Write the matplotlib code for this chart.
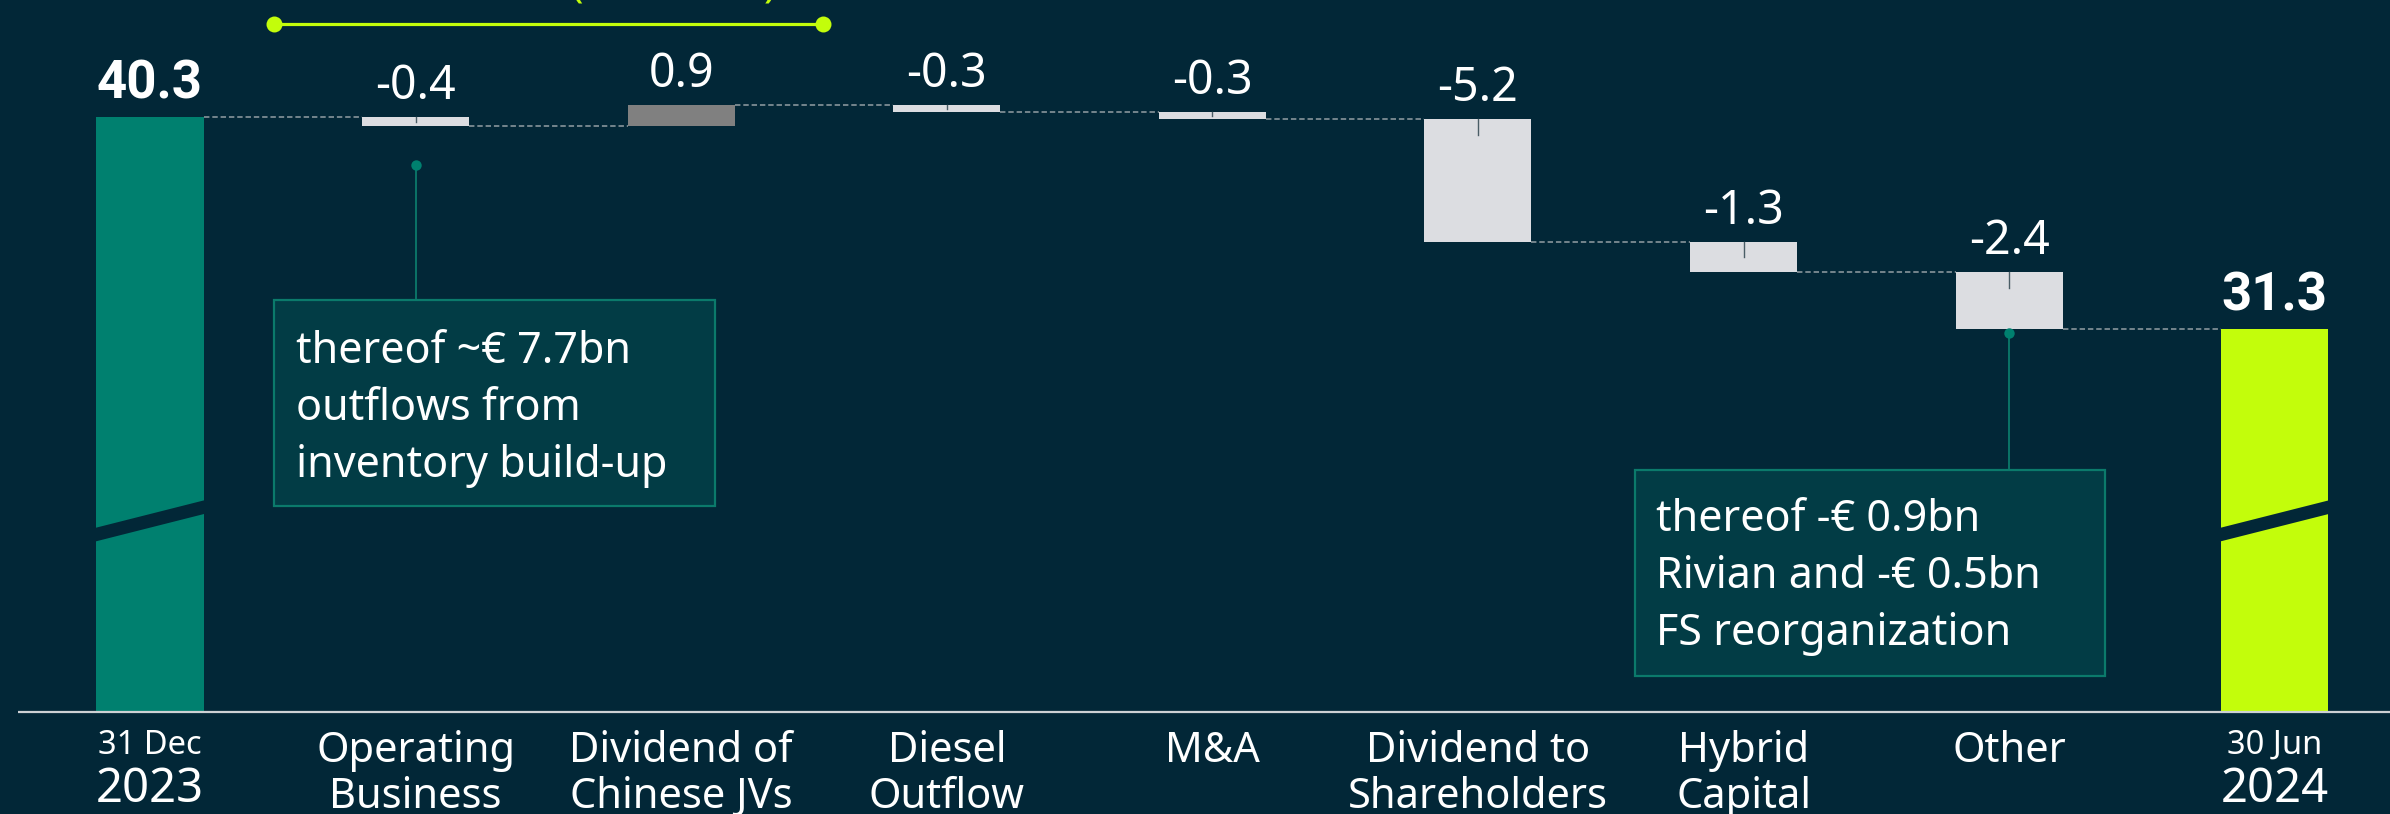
import matplotlib
matplotlib.use("Agg")
import matplotlib.pyplot as plt
from matplotlib.patches import Rectangle, Polygon
import numpy as np

# ---- data -------------------------------------------------------------
start_label = ("31 Dec", "2023")
end_label = ("30 Jun", "2024")
start_value = 40.3
end_value = 31.3
categories = ["Operating\nBusiness", "Dividend of\nChinese JVs", "Diesel\nOutflow",
              "M&A", "Dividend to\nShareholders", "Hybrid\nCapital", "Other"]
changes = [-0.4, 0.9, -0.3, -0.3, -5.2, -1.3, -2.4]

note_left = ["thereof ~€ 7.7bn", "outflows from", "inventory build-up"]
note_right = ["thereof -€ 0.9bn", "Rivian and -€ 0.5bn", "FS reorganization"]

# ---- style ------------------------------------------------------------
BG = "#022737"
TEAL = "#00806F"
LIME = "#C3FD0B"
GREY_BAR = "#DCDDE1"
UP_BAR = "#808080"
BOX_FACE = "#023C45"
BOX_EDGE = "#0B7A6B"
CONNECT = "#7E8C93"
FONT = "Noto Sans"
BOLD_FONT = "Roboto"   # Noto Sans here has no bold face

plt.rcParams["font.family"] = [FONT, "DejaVu Sans"]

axis_floor = 14.96      # broken axis: bars start here
bar_w = 0.403

fig = plt.figure(figsize=(23.9, 8.14), dpi=100, facecolor=BG)
ax = fig.add_axes([0, 0, 1, 1])
ax.set_facecolor(BG)
ax.set_xlim(-0.5648, 8.434)
ax.set_ylim(10.64, 45.28)
ax.axis("off")

n = len(changes)
levels = start_value + np.cumsum(changes)
prev = np.concatenate([[start_value], levels[:-1]])
x_chg = np.arange(1, n + 1)
x_end = n + 1

# totals
ax.bar(0, start_value - axis_floor, bottom=axis_floor, width=bar_w, color=TEAL, zorder=2)
ax.bar(x_end, end_value - axis_floor, bottom=axis_floor, width=bar_w, color=LIME, zorder=2)

# break marks on total bars
for xc in (0, x_end):
    xl, xr = xc - bar_w / 2 - 0.01, xc + bar_w / 2 + 0.01
    yc_l, yc_r, half = 22.51, 23.72, 0.29
    ax.add_patch(Polygon([[xl, yc_l - half], [xr, yc_r - half], [xr, yc_r + half], [xl, yc_l + half]],
                         closed=True, facecolor=BG, edgecolor="none", zorder=3))

# change bars
for xi, p, lv, v in zip(x_chg, prev, levels, changes):
    lo, hi = min(p, lv), max(p, lv)
    ax.bar(xi, hi - lo, bottom=lo, width=bar_w,
           color=UP_BAR if v > 0 else GREY_BAR, zorder=2)
    tick = min(0.68, abs(v) / 2)
    if v < 0:
        ax.plot([xi, xi], [hi, hi - tick], color="#4A5D66", lw=1.0, zorder=3)

# connectors
conn_levels = np.concatenate([[start_value], levels])
for i, lv in enumerate(conn_levels):
    ax.plot([i + bar_w / 2, i + 1 - bar_w / 2], [lv, lv], color=CONNECT,
            lw=1.3, ls=(0, (3, 1.6)), zorder=1)

# value labels
def value_label(x, top, text, bold=False):
    if bold:
        ax.annotate(text, (x, top), xytext=(0, 13), textcoords="offset points",
                    ha="center", va="baseline", color="white", fontsize=38,
                    fontweight="bold", family=[BOLD_FONT, "DejaVu Sans"])
    else:
        ax.annotate(text, (x, top), xytext=(0, 13), textcoords="offset points",
                    ha="center", va="baseline", color="white", fontsize=33.5)

value_label(0, start_value, f"{start_value:.1f}", bold=True)
value_label(x_end, end_value, f"{end_value:.1f}", bold=True)
for xi, p, lv, v in zip(x_chg, prev, levels, changes):
    value_label(xi, max(p, lv), f"{v:.1f}")

# baseline
ax.plot([-0.497, 8.434], [axis_floor, axis_floor], color="#CDD1D4", lw=1.6, zorder=4,
        solid_capstyle="butt")

# category labels
line1_y, line2_y = 12.85, 10.89
for xi, cat in zip(x_chg, categories):
    parts = cat.split("\n")
    ax.text(xi, line1_y, parts[0], ha="center", va="baseline", color="white", fontsize=30)
    if len(parts) > 1:
        ax.text(xi, line2_y, parts[1], ha="center", va="baseline", color="white", fontsize=30)

for xi, (d, yr) in ((0, start_label), (x_end, end_label)):
    ax.text(xi, 13.19, d, ha="center", va="baseline", color="white", fontsize=23.5)
    ax.text(xi, 11.15, yr, ha="center", va="baseline", color="white", fontsize=34)

# annotation boxes
def note_box(x0, x1, y0, y1, tx, ty, lines, dot):
    ax.add_patch(Rectangle((x0, y0), x1 - x0, y1 - y0, facecolor=BOX_FACE,
                           edgecolor=BOX_EDGE, lw=1.6, zorder=5))
    for k, line in enumerate(lines):
        ax.text(tx, ty - k * 2.43, line, ha="left", va="baseline", color="white",
                fontsize=31, zorder=6)
    ax.plot([dot[0], dot[0]], [dot[1], y1], color=BOX_EDGE, lw=1.3, zorder=4)
    ax.plot(dot[0], dot[1], "o", color=TEAL, ms=7.5, mec="none", zorder=5)

note_box(0.467, 2.128, 23.75, 32.51, 0.55, 29.83, note_left, (1, 38.26))
note_box(5.593, 7.360, 16.53, 25.28, 5.67, 22.68, note_right, (7, 31.11))

# bracket at top (its label is cut off by the frame in the original)
ax.plot([0.467, 2.534], [44.26, 44.26], color=LIME, lw=2.3, zorder=4)
ax.plot([0.467, 2.534], [44.26, 44.26], "o", color=LIME, ms=11.5, mec="none", zorder=5)
ax.text(1.608, 45.45, "(", ha="center", va="baseline", color=LIME, fontsize=30, clip_on=False)
ax.text(2.334, 45.45, ")", ha="center", va="baseline", color=LIME, fontsize=30, clip_on=False)

fig.savefig("out.png", dpi=100, facecolor=BG)
